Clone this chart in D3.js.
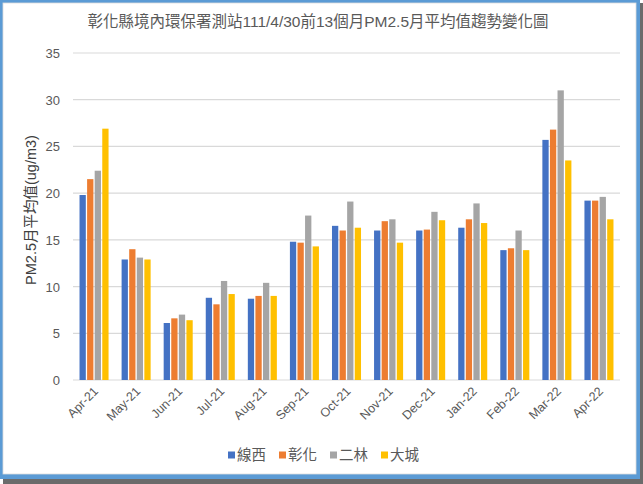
<!DOCTYPE html>
<html><head><meta charset="utf-8">
<script src="https://cdn.jsdelivr.net/npm/d3@7"></script>
<style>html,body{margin:0;padding:0;background:#fff;}svg{display:block;}</style>
</head><body>
<script>
const months = ["Apr-21","May-21","Jun-21","Jul-21","Aug-21","Sep-21","Oct-21","Nov-21","Dec-21","Jan-22","Feb-22","Mar-22","Apr-22"];
const seriesNames = ["線西","彰化","二林","大城"];
const xianxi   = [19.8,12.9,6.1,8.8,8.7,14.8,16.5,16.0,16.0,16.3,13.9,25.7,19.2];
const changhua = [21.5,14.0,6.6,8.1,9.0,14.7,16.0,17.0,16.1,17.2,14.1,26.8,19.2];
const erlin    = [22.4,13.1,7.0,10.6,10.4,17.6,19.1,17.2,18.0,18.9,16.0,31.0,19.6];
const dacheng  = [26.9,12.9,6.4,9.2,9.0,14.3,16.3,14.7,17.1,16.8,13.9,23.5,17.2];
const yTicks = [0,5,10,15,20,25,30,35];
const colors = ["#4472c4","#ed7d31","#a5a5a5","#ffc000"];
const title = "彰化縣境內環保署測站111/4/30前13個月PM2.5月平均值趨勢變化圖";
const yTitle = "PM2.5月平均值(ug/m3)";

const values = [xianxi, changhua, erlin, dacheng];
const W = 643, H = 484;
const font = "'Liberation Sans','Noto Sans CJK TC',sans-serif";
const svg = d3.select("body").append("svg").attr("width", W).attr("height", H);

// frame
svg.append("rect").attr("x",3).attr("y",3).attr("width",640).attr("height",481).attr("fill","#6b6b6b");
svg.append("rect").attr("x",0).attr("y",0).attr("width",640).attr("height",479).attr("fill","#5b9bd5");
svg.append("rect").attr("x",3).attr("y",3).attr("width",633).attr("height",471).attr("fill","#fff").attr("stroke","#dcdcdc").attr("stroke-width",0.8);

const pLeft = 73, pRight = 620, pTop = 53, pBottom = 380;
const x = d3.scaleBand().domain(months).range([pLeft, pRight]).paddingInner(0.31).paddingOuter(0.155);
const xs = d3.scaleBand().domain(d3.range(4)).range([0, x.bandwidth()]).paddingInner(0.17);
const y = d3.scaleLinear().domain([0,35]).range([pBottom, pTop]);

// gridlines
svg.append("g").selectAll("line").data(yTicks).join("line")
  .attr("x1", pLeft).attr("x2", pRight)
  .attr("y1", d => y(d)).attr("y2", d => y(d))
  .attr("stroke", "#d9d9d9").attr("stroke-width", 1.2);

// y axis labels
const yAxis = d3.axisLeft(y).tickValues(yTicks).tickSize(0).tickPadding(0);
const gy = svg.append("g").attr("transform", `translate(${pLeft-13},0)`).call(yAxis);
gy.select(".domain").remove();
gy.selectAll("text").attr("font-family", font).attr("font-size", 13).attr("fill", "#595959").attr("dy","0.35em");

// bars
const grp = svg.append("g").selectAll("g").data(months).join("g")
  .attr("transform", d => `translate(${x(d)},0)`);
grp.selectAll("rect").data((m, i) => values.map((v, s) => ({s, v: v[i]}))).join("rect")
  .attr("x", d => xs(d.s)).attr("width", xs.bandwidth())
  .attr("y", d => y(d.v)).attr("height", d => y(0) - y(d.v))
  .attr("fill", d => colors[d.s]);

// x axis
const xAxis = d3.axisBottom(x).tickSize(0).tickPadding(0);
const gx = svg.append("g").attr("transform", `translate(0,${pBottom})`).call(xAxis);
gx.select(".domain").remove();
gx.selectAll("text").attr("font-family", font).attr("font-size", 12.5).attr("fill", "#595959")
  .attr("text-anchor", "end").attr("dy", 0)
  .attr("transform", "translate(5,12) rotate(-45)");

// title
svg.append("text").attr("x", 318).attr("y", 27).attr("text-anchor", "middle")
  .attr("font-family", font).attr("font-size", 15.5).attr("fill", "#595959").text(title);

// y title
svg.append("text").attr("transform", "translate(36,210) rotate(-90)").attr("text-anchor", "middle")
  .attr("font-family", font).attr("font-size", 14.5).attr("fill", "#404040").text(yTitle);

// legend
const lg = svg.append("g").selectAll("g").data(seriesNames).join("g")
  .attr("transform", (d, i) => `translate(${228 + i*51},455)`);
lg.append("rect").attr("x", 0).attr("y", -3.5).attr("width", 7).attr("height", 7).attr("fill", (d, i) => colors[i]);
lg.append("text").attr("x", 9).attr("y", 0).attr("dy", "0.36em")
  .attr("font-family", font).attr("font-size", 14.5).attr("fill", "#595959").text(d => d);
</script>
</body></html>
